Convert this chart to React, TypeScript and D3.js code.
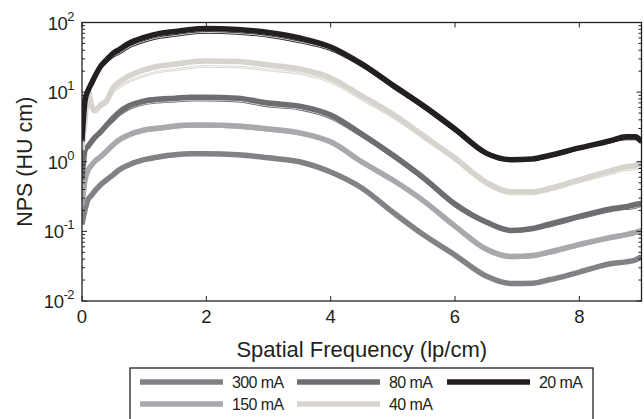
import React, { useEffect, useRef } from "react";
import * as d3 from "d3";

// spatial frequency samples (lp/cm)
const freq = [0, 0.05, 0.1, 0.15, 0.2, 0.3, 0.4, 0.5, 0.6, 0.75, 1, 1.25, 1.5, 1.75, 2, 2.5, 3, 3.5, 4, 4.5, 5, 5.5, 6, 6.5, 6.9, 7.25, 7.5, 8, 8.5, 8.75, 8.9, 9];

// NPS (HU cm), thick curves
const nps20 = [2.07, 7.7, 10.7, 13.2, 16.3, 23.5, 29.5, 36, 41, 50.1, 61, 69.7, 74.3, 79.4, 82, 79.4, 72, 59.9, 44.5, 25.4, 12.6, 6.3, 2.95, 1.33, 1.07, 1.1, 1.22, 1.58, 2.0, 2.28, 2.28, 1.93];
const nps40 = [1.48, 3.98, 10.7, 6.5, 5.4, 6.5, 7.7, 11.5, 14.0, 17.0, 20.8, 23.7, 25.3, 27.1, 28, 27.5, 24.5, 21.5, 16, 8.8, 4.84, 2.34, 1.13, 0.51, 0.37, 0.37, 0.41, 0.55, 0.74, 0.85, 0.89, 0.97];
const nps80 = [0.553, 1.48, 1.68, 1.93, 2.2, 2.68, 3.4, 4.25, 5.18, 6.31, 7.43, 7.94, 8.2, 8.47, 8.47, 8.2, 6.97, 6.3, 4.69, 2.5, 1.25, 0.583, 0.247, 0.136, 0.103, 0.11, 0.126, 0.164, 0.21, 0.226, 0.243, 0.251];
const nps150 = [0.244, 0.553, 0.768, 0.88, 1.0, 1.18, 1.43, 1.75, 2.07, 2.43, 2.87, 3.06, 3.27, 3.38, 3.38, 3.27, 2.96, 2.6, 1.93, 1.0, 0.546, 0.272, 0.119, 0.0557, 0.0436, 0.045, 0.0501, 0.065, 0.082, 0.09, 0.097, 0.103];
const nps300 = [0.126, 0.207, 0.29, 0.327, 0.373, 0.468, 0.553, 0.65, 0.768, 0.9, 1.07, 1.18, 1.26, 1.3, 1.3, 1.26, 1.14, 1.0, 0.711, 0.419, 0.189, 0.0885, 0.0456, 0.0228, 0.0178, 0.018, 0.02, 0.026, 0.0342, 0.0365, 0.0389, 0.0436];

// thin companion curves
const thin20 = [2.07, 7.7, 10.7, 13.2, 16.3, 22.7, 27.6, 32.6, 36, 43.9, 53.5, 61, 65, 69.6, 71.9, 69.6, 63.1, 52.5, 40.5, 23.8, 11.8, 5.9, 2.76, 1.29, 1.04, 1.06, 1.18, 1.53, 1.94, 2.13, 2.13, 1.87];
const thin40 = [1.48, 3.98, 10.7, 6.5, 5.4, 6.09, 6.97, 10.0, 11.8, 14.2, 17.2, 19.6, 21, 22.4, 23.3, 23, 20.8, 18.5, 13.9, 7.9, 4.4, 2.17, 1.05, 0.475, 0.345, 0.346, 0.384, 0.515, 0.67, 0.77, 0.78, 0.88];
const thin80 = [0.553, 1.48, 1.68, 1.93, 2.2, 2.6, 3.18, 3.85, 4.69, 5.72, 6.73, 7.19, 7.43, 7.67, 7.67, 7.43, 6.3, 5.7, 4.25, 2.34, 1.17, 0.546, 0.231, 0.132, 0.1, 0.106, 0.118, 0.154, 0.197, 0.212, 0.22, 0.235];
const thin150 = [0.244, 0.553, 0.768, 0.88, 1.0, 1.13, 1.36, 1.67, 1.97, 2.31, 2.73, 2.91, 3.11, 3.22, 3.22, 3.11, 2.82, 2.48, 1.84, 0.95, 0.52, 0.26, 0.113, 0.053, 0.0415, 0.0429, 0.0477, 0.0619, 0.078, 0.0857, 0.0924, 0.098];

const labels = ["300 mA", "150 mA", "80 mA", "40 mA", "20 mA"];
const colors = ["#818285", "#a7a9ac", "#6d6e71", "#d7d4cd", "#231f20"];
const thickData = [nps300, nps150, nps80, nps40, nps20];
const thinData = [null, thin150, thin80, thin40, thin20];

// legend rows (index into labels)
const legendRows = [[0, 2, 4], [1, 3]];

const xTicks = [0, 2, 4, 6, 8];
const yDecades = [-2, -1, 0, 1, 2];

const W = 644;
const H = 419;
const FONT = "'Liberation Sans', Arial, Helvetica, sans-serif";

const NpsChart = () => {
  const svgRef = useRef<SVGSVGElement>(null);

  useEffect(() => {
    const svg = d3.select(svgRef.current);
    svg.selectAll("*").remove();

    const margin = { top: 22.5, right: 2.5, bottom: 118, left: 82 };
    const x = d3.scaleLinear().domain([0, 9]).range([margin.left, W - margin.right]);
    const y = d3.scaleLog().domain([0.01, 100]).range([H - margin.bottom, margin.top]);
    const [x0, x1] = x.range();
    const [y0, y1] = y.range();

    svg.append("defs").append("clipPath").attr("id", "plot-clip")
      .append("rect").attr("x", x0).attr("y", y1).attr("width", x1 - x0).attr("height", y0 - y1);

    const line = d3.line<number>()
      .x((_, i) => x(freq[i]))
      .y(d => y(d))
      .curve(d3.curveMonotoneX);

    const curves = svg.append("g").attr("clip-path", "url(#plot-clip)");

    thickData.forEach((vals, k) => {
      const thin = thinData[k];
      if (thin) {
        // thin pair: coloured stroke with a white core reads as two thin lines
        curves.append("path").datum(thin)
          .attr("fill", "none").attr("stroke", "#fff").attr("stroke-width", 3.6)
          .attr("d", line);
        curves.append("path").datum(thin)
          .attr("fill", "none").attr("stroke", colors[k]).attr("stroke-width", 2.6)
          .attr("d", line);
        curves.append("path").datum(thin)
          .attr("fill", "none").attr("stroke", "#fff").attr("stroke-width", 0.8)
          .attr("d", line);
      }
      curves.append("path").datum(vals)
        .attr("fill", "none")
        .attr("stroke", colors[k])
        .attr("stroke-width", 5.5)
        .attr("stroke-linejoin", "round")
        .attr("d", line);
    });

    // frame
    svg.append("rect")
      .attr("x", x0).attr("y", y1).attr("width", x1 - x0).attr("height", y0 - y1)
      .attr("fill", "none").attr("stroke", "#231f20").attr("stroke-width", 1.3);

    const axes = svg.append("g").attr("stroke", "#231f20").attr("stroke-width", 1);

    // x ticks, bottom and top, pointing inward
    xTicks.forEach(t => {
      axes.append("line").attr("x1", x(t)).attr("x2", x(t)).attr("y1", y0).attr("y2", y0 - 5);
      axes.append("line").attr("x1", x(t)).attr("x2", x(t)).attr("y1", y1).attr("y2", y1 + 5);
      svg.append("text")
        .attr("x", x(t)).attr("y", y0 + 22)
        .attr("text-anchor", "middle")
        .attr("font-family", FONT).attr("font-size", 18.5).attr("fill", "#231f20")
        .text(t);
    });

    // y ticks: majors at decades, minors in between
    y.ticks().forEach(t => {
      const major = Math.abs(Math.log10(t) - Math.round(Math.log10(t))) < 1e-9;
      const len = major ? 5 : 3;
      axes.append("line").attr("x1", x0).attr("x2", x0 + len).attr("y1", y(t)).attr("y2", y(t));
      axes.append("line").attr("x1", x1).attr("x2", x1 - len).attr("y1", y(t)).attr("y2", y(t));
    });

    yDecades.forEach(e => {
      const txt = svg.append("text")
        .attr("x", x0 - 8).attr("y", y(Math.pow(10, e)) + 7)
        .attr("text-anchor", "end")
        .attr("font-family", FONT).attr("font-size", 18.5).attr("fill", "#231f20")
        .attr("letter-spacing", -0.5);
      txt.append("tspan").text("10");
      txt.append("tspan").attr("dy", -9).attr("font-size", 13).text(String(e));
    });

    svg.append("text")
      .attr("x", (x0 + x1) / 2).attr("y", y0 + 56)
      .attr("text-anchor", "middle")
      .attr("font-family", FONT).attr("font-size", 22).attr("fill", "#231f20")
      .text("Spatial Frequency (lp/cm)");

    svg.append("text")
      .attr("transform", `translate(32, ${(y0 + y1) / 2}) rotate(-90)`)
      .attr("text-anchor", "middle")
      .attr("font-family", FONT).attr("font-size", 21.5).attr("fill", "#231f20")
      .text("NPS (HU cm)");

    // legend
    const legend = svg.append("g");
    legend.append("rect")
      .attr("x", 130).attr("y", 368).attr("width", 463).attr("height", 70)
      .attr("fill", "#fff").attr("stroke", "#231f20").attr("stroke-width", 1.3);

    const colX = [140, 297, 447];
    legendRows.forEach((row, r) => {
      const ly = 382 + r * 22;
      row.forEach((k, c) => {
        legend.append("line")
          .attr("x1", colX[c]).attr("x2", colX[c] + 83)
          .attr("y1", ly).attr("y2", ly)
          .attr("stroke", colors[k]).attr("stroke-width", 5.5);
        legend.append("text")
          .attr("x", colX[c] + 92).attr("y", ly + 6)
          .attr("font-family", FONT).attr("font-size", 16).attr("fill", "#231f20")
          .attr("letter-spacing", -0.6)
          .text(labels[k]);
      });
    });
  }, []);

  return (
    <svg
      ref={svgRef}
      width={W}
      height={H}
      style={{ position: "absolute", left: 0, top: 0, background: "#fff" }}
    />
  );
};

export default function App() {
  return <NpsChart />;
}
